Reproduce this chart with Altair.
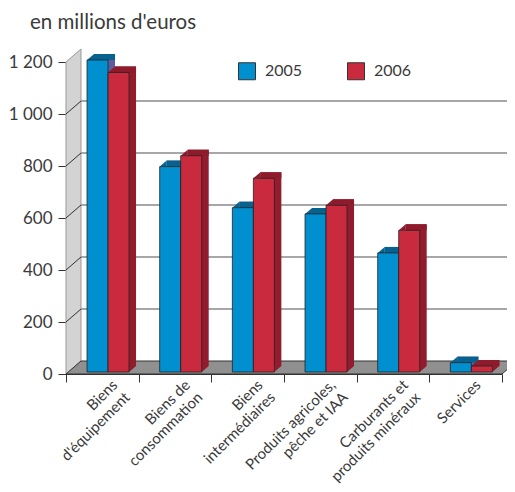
import altair as alt
import pandas as pd

# ---- data ----
categories = ["Biens|d'équipement", "Biens de|consommation", "Biens|intermédiaires",
              "Produits agricoles,|pêche et IAA", "Carburants et|produits minéraux", "Services"]
years = ["2005", "2006"]
values_2005 = [1200, 790, 632, 608, 458, 36]
values_2006 = [1152, 832, 745, 641, 545, 23]
y_ticks = [0, 200, 400, 600, 800, 1000, 1200]
grid_values = [200, 400, 600, 800, 1000]
unit_label = "en millions d'euros"

# ---- style constants ----
W, H = 436, 312          # plot area
DX, DY = 15, 13          # depth of wall / floor
BAR_W = 21
BDX, BDY = 7, 6          # depth of bars
LIFT = 2                 # bars sit slightly behind the front edge
SHIFT = 5.7
FONT = "Lato"
TXT = "#3a3a3a"
BLUE, RED = "#0090cf", "#c92a3e"
TOP = {"2005": "#08628f", "2006": "#8e1b2b"}
SIDE = {"2005": "#5a5e9e", "2006": "#921c2d"}

series = {"2005": values_2005, "2006": values_2006}
dfs = {}
for y in years:
    dfs[y] = pd.DataFrame({"cat": categories, "year": y, "value": series[y], "zero": 0})

x_scale = alt.Scale(domain=categories, paddingInner=0, paddingOuter=0)
y_scale = alt.Scale(domain=[0, 1200], nice=False)

x_axis = alt.Axis(title=None, labelAngle=-45, labelAlign="right", labelBaseline="middle",
                  labelExpr="split(datum.label, '|')", tickBand="extent", tickSize=8,
                  tickColor="#333", domainColor="#333", labelFontSize=15, labelFont=FONT,
                  labelColor=TXT, labelPadding=0, labelLineHeight=17.5, labelOffset=12,
                  labelLimit=300, labelOverlap=False, labelBound=False)
y_axis = alt.Axis(title=None, values=y_ticks, grid=False, tickSize=8, tickColor="#333",
                  domainColor="#333", labelFontSize=17, labelFont=FONT, labelColor=TXT,
                  labelPadding=6,
                  labelExpr="replace(format(datum.value, ','), ',', ' ')")

X = alt.X("cat:N", scale=x_scale, sort=categories, axis=x_axis, title=None)
Y = alt.Y("value:Q", scale=y_scale, axis=y_axis, title=None)

deco = pd.DataFrame({"value": [0]})
grid_df = pd.DataFrame({"value": grid_values})

wall = alt.Chart(deco).mark_point(
    shape=f"M0,0 L0,{-H} L{DX},{-H-DY} L{DX},{-DY} Z", size=4, filled=True,
    fill="#d3d3d3", stroke="#999999", strokeWidth=1, opacity=1
).encode(x=alt.value(0), y=Y)

floor = alt.Chart(deco).mark_point(
    shape=f"M0,0 L{DX},{-DY} L{W+DX},{-DY} L{W},0 Z", size=4, filled=True,
    fill="#909090", stroke="#333333", strokeWidth=1, opacity=1
).encode(x=alt.value(0), y=Y)

grid = alt.Chart(grid_df).mark_rule(yOffset=-DY, color="#8a8a8a", strokeWidth=1.5).encode(
    y=Y, x=alt.value(DX), x2=alt.value(W + DX))

wall_ticks = alt.Chart(grid_df).mark_point(
    shape=f"M0,0 L{DX},{-DY}", size=4, filled=False, stroke="#333333", strokeWidth=1, opacity=1
).encode(x=alt.value(0), y=Y)

color_enc = alt.Color("year:N", scale=alt.Scale(domain=years, range=[BLUE, RED]),
                      legend=alt.Legend(title=None, orient="none", legendX=172, legendY=0,
                                        direction="horizontal", symbolType="square",
                                        symbolSize=289, symbolStrokeColor="#333",
                                        symbolStrokeWidth=1, labelFontSize=16, labelFont=FONT,
                                        labelColor=TXT, labelOffset=9, columnPadding=42,
                                        padding=0, symbolOffset=0))

back_layers, tri_layers, front_layers = [], [], []
for i, yr in enumerate(years):
    top_c, side_c = TOP[yr], SIDE[yr]
    center = SHIFT + (i - 0.5) * BAR_W
    left = center - BAR_W / 2
    right = center + BAR_W / 2
    d = dfs[yr]
    # side face (shifted body)
    back_layers.append(alt.Chart(d).mark_bar(
        width=BAR_W, xOffset=center + BDX, yOffset=-LIFT - BDY, y2Offset=-LIFT - BDY,
        color=side_c, strokeWidth=0
    ).encode(x=X, y=Y, y2=alt.Y2("zero:Q")))
    # top face strip
    back_layers.append(alt.Chart(d).mark_bar(
        width=BAR_W, xOffset=center + BDX, yOffset=-LIFT - BDY, y2Offset=-LIFT,
        color=top_c, strokeWidth=0
    ).encode(x=X, y=Y, y2=alt.Y2("value:Q")))
    tri_layers.append(alt.Chart(d).mark_point(
        shape=f"M0,0 L{BDX},{-BDY} L{BDX},0 Z", size=4, filled=True, color=top_c,
        opacity=1, xOffset=left, yOffset=-LIFT
    ).encode(x=X, y=Y))
    tri_layers.append(alt.Chart(d).mark_point(
        shape=f"M0,0 L0,{-BDY} L{BDX},{-BDY} Z", size=4, filled=True, color=side_c,
        opacity=1, xOffset=right, yOffset=-LIFT
    ).encode(x=X, y=alt.Y("zero:Q", scale=y_scale, axis=y_axis, title=None)))
    front_layers.append(alt.Chart(d).mark_bar(
        width=BAR_W, xOffset=center, yOffset=-LIFT, y2Offset=-LIFT,
        stroke="#222222", strokeWidth=0.8
    ).encode(x=X, y=Y, y2=alt.Y2("zero:Q"), color=color_enc))

title = alt.Chart(pd.DataFrame({"t": [unit_label]})).mark_text(
    align="left", baseline="alphabetic", fontSize=20.5, font=FONT, color=TXT
).encode(text="t:N", x=alt.value(-36), y=alt.value(-33))

chart = alt.layer(
    wall, floor, grid, wall_ticks, *back_layers, *tri_layers, *front_layers, title
).properties(
    width=W, height=H,
    padding={"left": 58, "top": 54, "right": 5, "bottom": 110},
    autosize=alt.AutoSizeParams(type="none"),
).configure_view(stroke=None)

chart.save("out.html", embed_options={"renderer": "svg", "actions": False})
